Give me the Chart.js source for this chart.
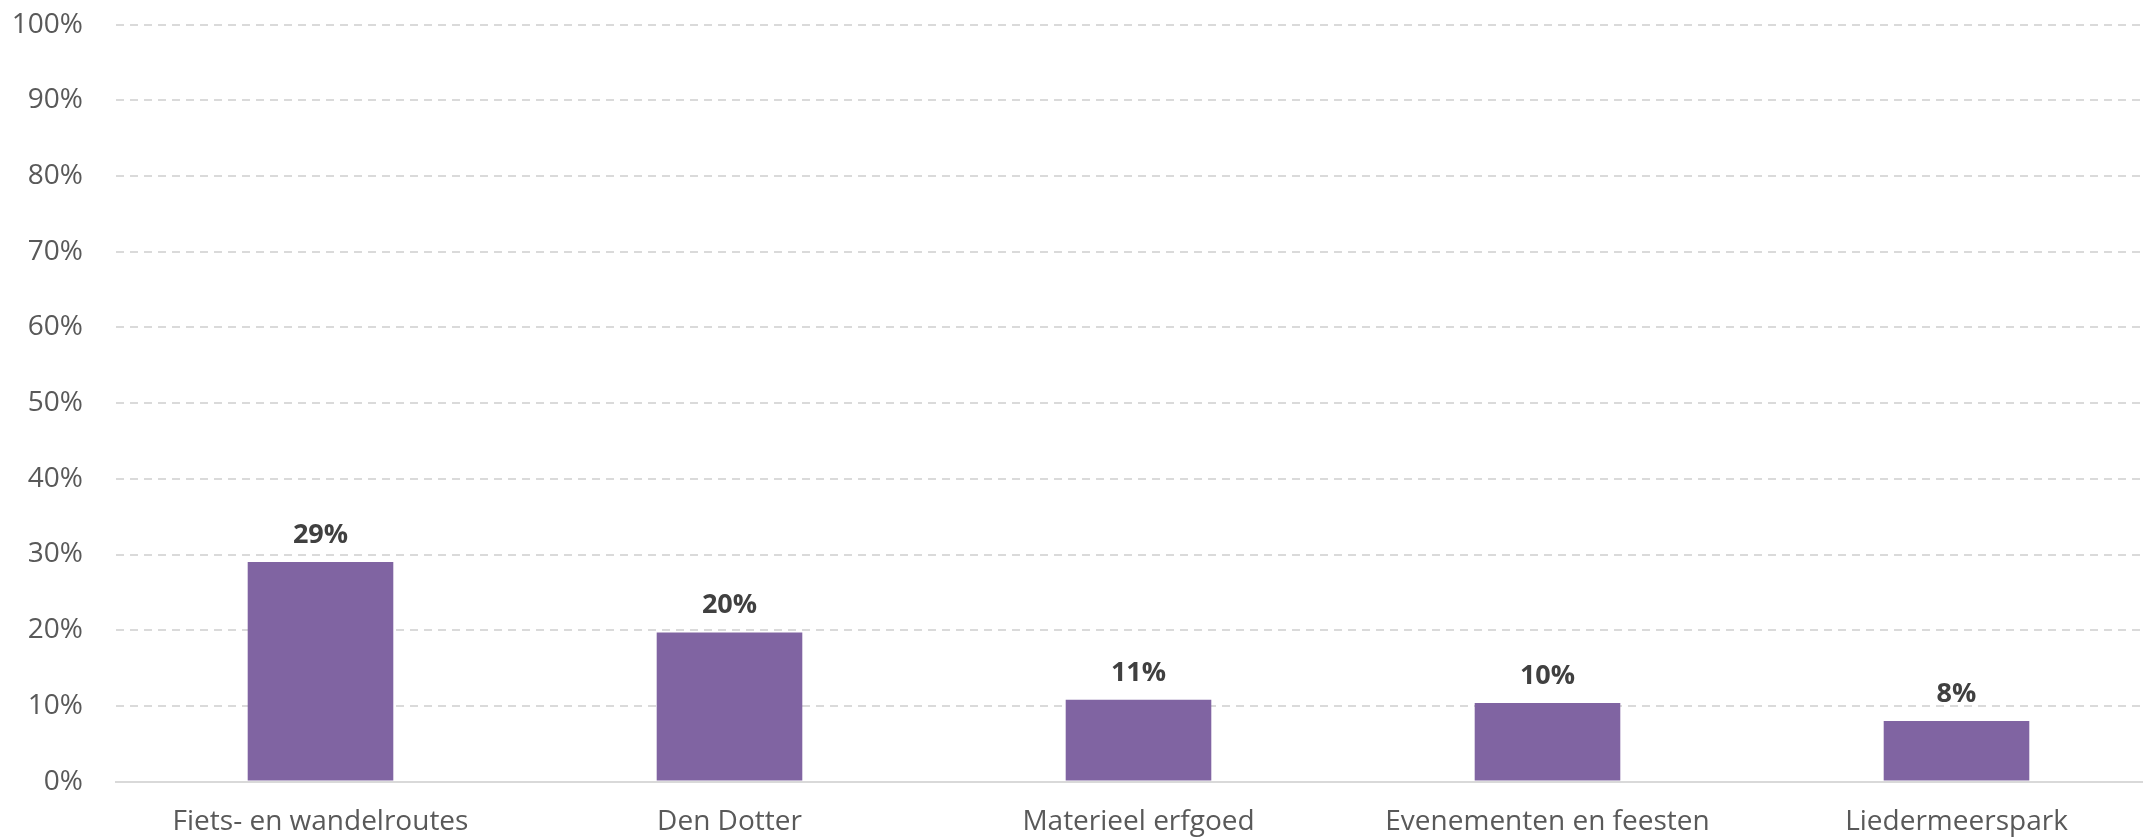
<!DOCTYPE html>
<html>
<head>
<meta charset="utf-8">
<script src="https://cdn.jsdelivr.net/npm/chart.js@4.4.1/dist/chart.umd.min.js"></script>
<style>
  html, body { margin: 0; padding: 0; background: #ffffff; overflow: hidden; }
  canvas { display: block; }
</style>
</head>
<body>
<canvas id="c" width="2161" height="839" style="width:2161px;height:839px"></canvas>
<script>
const categories = ["Fiets- en wandelroutes", "Den Dotter", "Materieel erfgoed", "Evenementen en feesten", "Liedermeerspark"];
const values = [29.0, 19.7, 10.8, 10.4, 8.0];
const yTicks = [0, 10, 20, 30, 40, 50, 60, 70, 80, 90, 100];

const FONT = "'Open Sans', 'Noto Sans', sans-serif";

const valueLabels = {
  id: 'valueLabels',
  afterDatasetsDraw(chart) {
    const ctx = chart.ctx;
    const meta = chart.getDatasetMeta(0);
    ctx.save();
    ctx.font = "bold 27px " + FONT;
    ctx.fillStyle = "#404040";
    ctx.textAlign = "center";
    ctx.textBaseline = "alphabetic";
    meta.data.forEach((bar, i) => {
      ctx.fillText(Math.round(values[i]) + "%", bar.x, bar.y - 19);
    });
    ctx.restore();
  }
};

new Chart(document.getElementById('c'), {
  type: 'bar',
  data: {
    labels: categories,
    datasets: [{
      data: values,
      backgroundColor: '#8064A2',
      borderWidth: 0,
      barPercentage: 0.356,
      categoryPercentage: 1.0
    }]
  },
  options: {
    responsive: false,
    maintainAspectRatio: false,
    animation: false,
    devicePixelRatio: 1,
    layout: { padding: { top: 24.7, left: 0, right: 0, bottom: 0 } },
    plugins: { legend: { display: false }, tooltip: { enabled: false } },
    scales: {
      x: {
        afterFit(scale) { scale.height = 57.4; scale.paddingLeft = 0; scale.paddingRight = 0; },
        grid: { display: false, drawTicks: false },
        border: { display: true, color: '#d9d9d9', width: 2 },
        ticks: {
          color: '#595959',
          font: { family: FONT, size: 28, lineHeight: 1.2 },
          padding: 24,
          maxRotation: 0,
          autoSkip: false
        }
      },
      y: {
        min: 0,
        max: 100,
        afterFit(scale) { scale.width = 116; scale.paddingTop = 0; scale.paddingBottom = 0; },
        afterBuildTicks(scale) { scale.ticks = yTicks.map(v => ({ value: v })); },
        grid: {
          drawTicks: false,
          lineWidth: 2,
          color: (ctx) => (ctx.tick && ctx.tick.value === 0) ? 'rgba(0,0,0,0)' : '#dadada'
        },
        border: { display: false, dash: [8, 6] },
        ticks: {
          color: '#595959',
          font: { family: FONT, size: 28, lineHeight: 1.2 },
          padding: 33,
          callback: (v) => v + '%'
        }
      }
    }
  },
  plugins: [valueLabels]
});
</script>
</body>
</html>
